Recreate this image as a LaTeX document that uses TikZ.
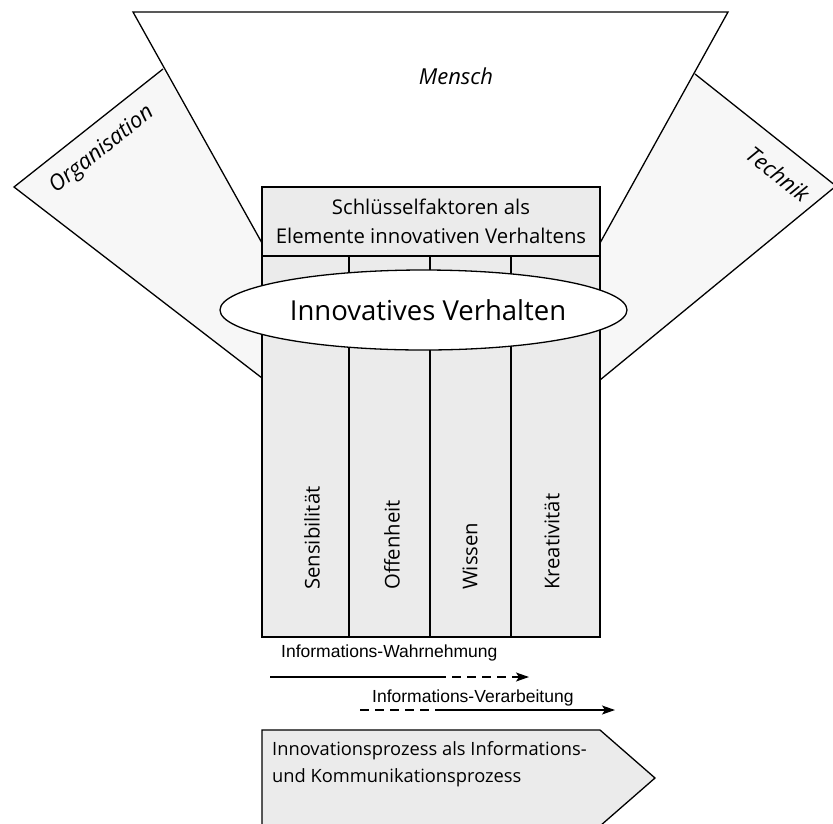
\documentclass[tikz,border=0pt]{standalone}
\usepackage{fontspec}
\setmainfont{Open Sans}
\newfontfamily\arrowfont{Liberation Sans}
\usetikzlibrary{arrows.meta,shapes.geometric}
\definecolor{wingfill}{RGB}{247,247,247}
\definecolor{boxfill}{RGB}{235,235,235}
\begin{document}
\begin{tikzpicture}[x=1pt,y=-1pt,
  outline/.style={draw=black,line width=1.3pt,line join=miter},
  colbox/.style={outline,fill=boxfill,rectangle,inner sep=0pt,minimum height=381pt},
  collabel/.style={rotate=90,anchor=west,inner sep=0pt,font=\fontsize{20.3}{24}\selectfont},
  dimlabel/.style={inner sep=0pt,font=\fontsize{22}{26}\selectfont\itshape},
  flowlabel/.style={anchor=west,inner sep=0pt,font=\arrowfont\fontsize{17.5}{20}\selectfont},
  flow/.style={line width=1.4pt},
  flowdash/.style={flow,dash pattern=on 9pt off 6pt},
  tip/.style={-{Stealth[length=13pt,width=9pt,inset=3pt]}}
]
\useasboundingbox (0,0) rectangle (833,823);
\clip (0,0) rectangle (833,823);

% side wings: Organisation (left) and Technik (right)
\fill[wingfill] (163,69) -- (14,187) -- (262,378) -- (262,243) -- cycle;
\draw[outline] (163,69) -- (14,187) -- (262,378);
\fill[wingfill] (695,74) -- (836,186) -- (600,380) -- (600,243) -- cycle;
\draw[outline] (695,74) -- (836,186) -- (600,380);

% top funnel: Mensch
\draw[outline,fill=white] (262,243) -- (133,12) -- (728,12) -- (600,243);

\node[dimlabel] (mensch) at (456,76) {Mensch};
\node[dimlabel,rotate=38.4] (orga) at (102,150) {Organisation};
\node[dimlabel,rotate=-38.7] (technik) at (778,174) {Technik};

% key factor columns
\node[colbox,minimum width=87pt] (c1) at (305.5,446.5) {};
\node[colbox,minimum width=81pt] (c2) at (389.5,446.5) {};
\node[colbox,minimum width=81pt] (c3) at (470.5,446.5) {};
\node[colbox,minimum width=89pt] (c4) at (555.5,446.5) {};
\node[collabel] (l1) at (312,590) {Sensibilität};
\node[collabel] (l2) at (392,590) {Offenheit};
\node[collabel] (l3) at (470,590) {Wissen};
\node[collabel] (l4) at (552,590) {Kreativität};

% header box
\node[outline,fill=boxfill,rectangle,inner sep=0pt,minimum width=338pt,minimum height=69pt,
      align=center,font=\fontsize{20.3}{29}\selectfont] (head) at (431,221.5)
  {Schlüsselfaktoren als\\Elemente innovativen Verhaltens};

% central ellipse
\node[outline,fill=white,ellipse,inner sep=0pt,minimum width=407pt,minimum height=80pt,
      font=\fontsize{27.5}{30}\selectfont] (iv) at (423.5,310)
  {\hspace*{9pt}Innovatives Verhalten};

% information flows
\node[flowlabel] (wahr) at (281,653) {Informations-Wahrnehmung};
\coordinate (w0) at (270,677);
\coordinate (w1) at (437,677);
\coordinate (w2) at (529,677);
\draw[flow] (w0) -- (w1);
\draw[flowdash,tip] (w1) -- (w2);

\node[flowlabel] (verarb) at (372,698) {Informations-Verarbeitung};
\coordinate (v0) at (360,710);
\coordinate (v1) at (443,710);
\coordinate (v2) at (615,710);
\draw[flowdash] (v0) -- (v1);
\draw[flow,tip] (v1) -- (v2);

% process arrow
\draw[outline,fill=boxfill] (262,730) -- (600,730) -- (655,778) -- (600,826) -- (262,826) -- cycle;
\node[anchor=west,inner sep=0pt,align=left,font=\fontsize{18.3}{27}\selectfont] (proc) at (272,764)
  {Innovationsprozess als Informations-\\und Kommunikationsprozess};
\end{tikzpicture}
\end{document}
